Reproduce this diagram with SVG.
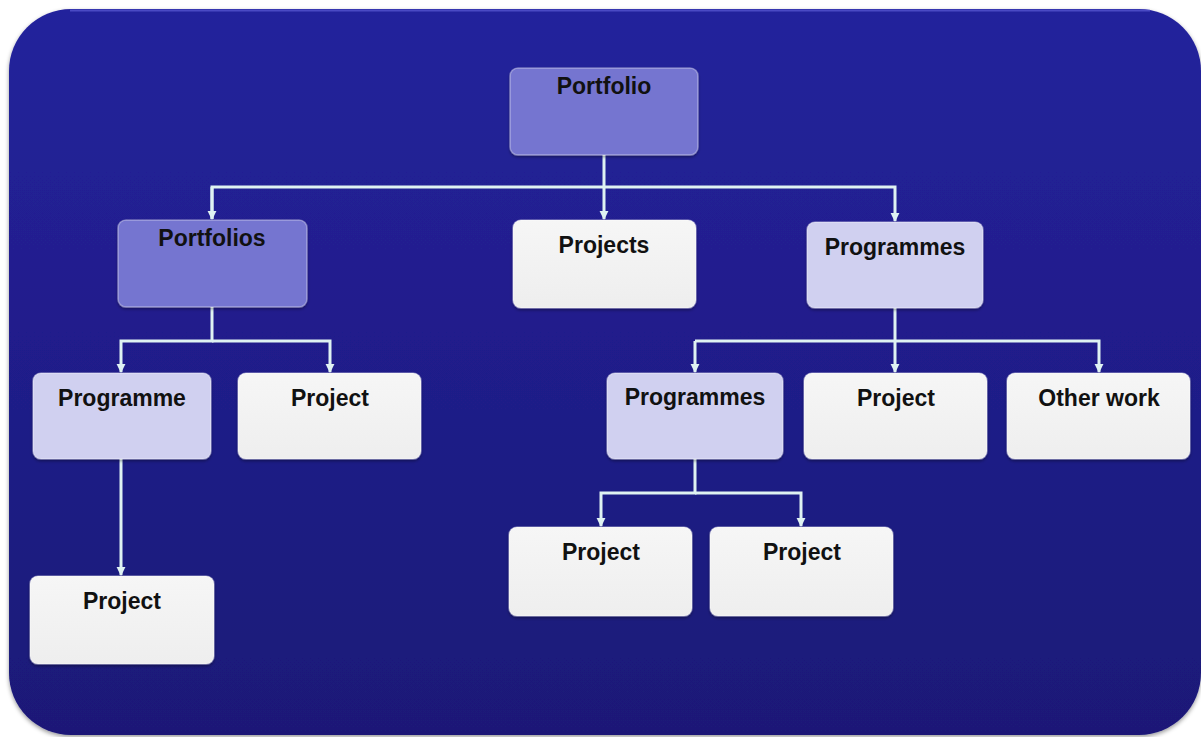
<svg xmlns="http://www.w3.org/2000/svg" width="1201" height="737" viewBox="0 0 1201 737">
<defs>
<linearGradient id="bg" x1="0" y1="0" x2="0" y2="1">
<stop offset="0" stop-color="#24229c"/>
<stop offset="1" stop-color="#1b1977"/>
</linearGradient>
<linearGradient id="gWhite" x1="0" y1="0" x2="0" y2="1">
<stop offset="0" stop-color="#f6f6f6"/>
<stop offset="1" stop-color="#eeeeee"/>
</linearGradient>
<marker id="arr" viewBox="0 0 10 10" refX="9" refY="5" markerWidth="9" markerHeight="10" markerUnits="userSpaceOnUse" orient="auto">
<path d="M0,0 L10,5 L0,10 Z" fill="#dff2f2"/>
</marker>
<filter id="sh" x="-10%" y="-10%" width="120%" height="130%">
<feDropShadow dx="0" dy="2" stdDeviation="1.5" flood-color="#000" flood-opacity="0.35"/>
</filter>
<filter id="bgsh" x="-5%" y="-5%" width="110%" height="110%">
<feDropShadow dx="0" dy="2" stdDeviation="2" flood-color="#000" flood-opacity="0.4"/>
</filter>
</defs>
<style>
.node rect{stroke:#ffffff;stroke-opacity:0.35;stroke-width:1.5;filter:url(#sh)}
.dark rect{fill:#7575d0}
.lav rect{fill:#d0d0f0}
.white rect{fill:url(#gWhite)}
text{font-family:"Liberation Sans",Arial,sans-serif;font-weight:bold;font-size:23px;fill:#111;text-anchor:middle}
.conn path{fill:none;stroke:#dff2f2;stroke-width:3}
</style>
<rect x="9" y="9" width="1192" height="726" rx="62" ry="62" fill="url(#bg)" filter="url(#bgsh)"/>
<path d="M70,10.5 L1150,10.5" stroke="#5b5bd6" stroke-width="2" fill="none" opacity="0.7"/>
<g class="conn">
<path d="M604,155 V219" marker-end="url(#arr)"/>
<path d="M212,219 V187 H895 V221" marker-end="url(#arr)"/>
<path d="M212,187 V219" marker-end="url(#arr)"/>
<path d="M212,307 V341 H121 V372" marker-end="url(#arr)"/>
<path d="M212,341 H330 V372" marker-end="url(#arr)"/>
<path d="M895,308 V372" marker-end="url(#arr)"/>
<path d="M695,341 H1099 V372" marker-end="url(#arr)"/>
<path d="M695,341 V372" marker-end="url(#arr)"/>
<path d="M121,459 V575" marker-end="url(#arr)"/>
<path d="M695,459 V493 H601 V526" marker-end="url(#arr)"/>
<path d="M695,493 H801 V526" marker-end="url(#arr)"/>
</g>
<g id="portfolio" class="node dark"><rect x="510" y="68" width="188" height="87" rx="8"/><text x="604" y="94">Portfolio</text></g>
<g id="portfolios" class="node dark"><rect x="118" y="220" width="189" height="87" rx="8"/><text x="212" y="246">Portfolios</text></g>
<g id="projects" class="node white"><rect x="513" y="220" width="183" height="88" rx="8"/><text x="604" y="253">Projects</text></g>
<g id="programmes1" class="node lav"><rect x="807" y="222" width="176" height="86" rx="8"/><text x="895" y="255">Programmes</text></g>
<g id="programme" class="node lav"><rect x="33" y="373" width="178" height="86" rx="8"/><text x="122" y="406">Programme</text></g>
<g id="project1" class="node white"><rect x="238" y="373" width="183" height="86" rx="8"/><text x="330" y="406">Project</text></g>
<g id="programmes2" class="node lav"><rect x="607" y="373" width="176" height="86" rx="8"/><text x="695" y="405">Programmes</text></g>
<g id="project2" class="node white"><rect x="804" y="373" width="183" height="86" rx="8"/><text x="896" y="406">Project</text></g>
<g id="otherwork" class="node white"><rect x="1007" y="373" width="183" height="86" rx="8"/><text x="1099" y="406">Other work</text></g>
<g id="project3" class="node white"><rect x="509" y="527" width="183" height="89" rx="8"/><text x="601" y="560">Project</text></g>
<g id="project4" class="node white"><rect x="710" y="527" width="183" height="89" rx="8"/><text x="802" y="560">Project</text></g>
<g id="project5" class="node white"><rect x="30" y="576" width="184" height="88" rx="8"/><text x="122" y="609">Project</text></g>
</svg>
